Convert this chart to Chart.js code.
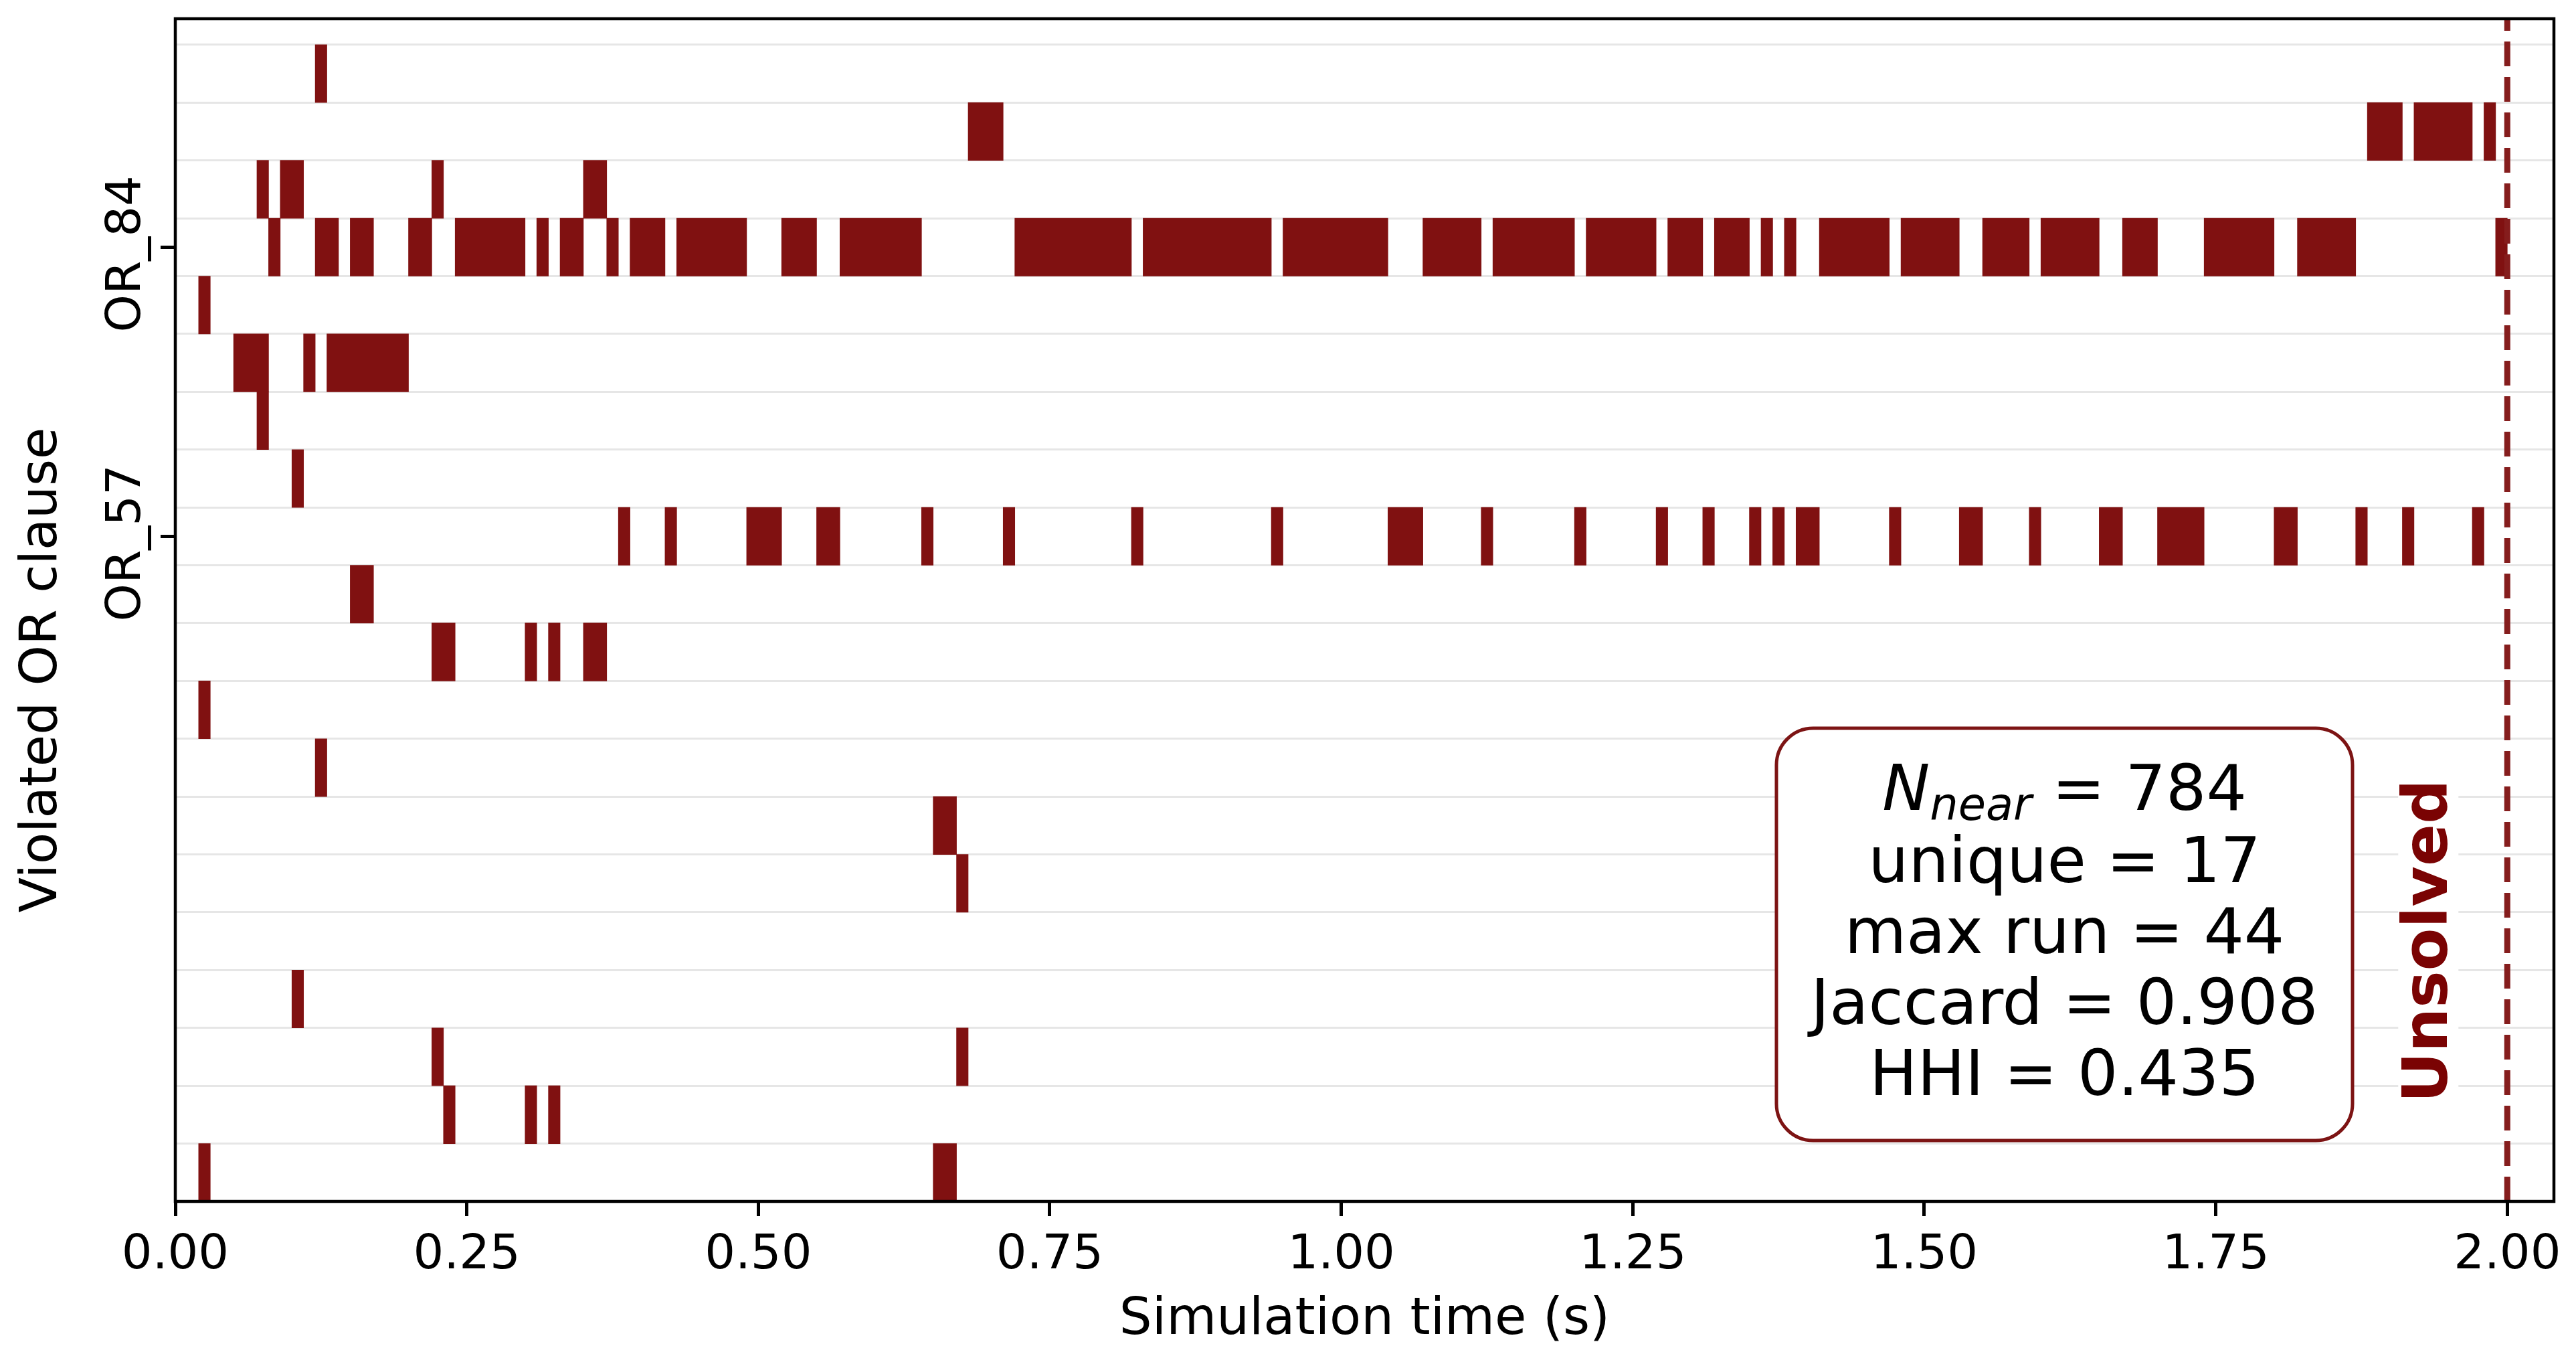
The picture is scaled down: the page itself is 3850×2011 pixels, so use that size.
<!DOCTYPE html>
<html>
<head>
<meta charset="utf-8">
<title>Violated OR clauses over simulation time</title>
<script src="https://cdn.jsdelivr.net/npm/chart.js@4.4.1/dist/chart.umd.min.js"></script>
<style>
  html, body { margin: 0; padding: 0; background: #fff; }
  #wrap { width: 3850px; height: 2011px; }
</style>
</head>
<body>
<div id="wrap"><canvas id="raster" width="3850" height="2011"></canvas></div>
<script>
/* ── data ─────────────────────────────────────────── */

// time axis (s)
const timeTicks = [0, 0.25, 0.5, 0.75, 1.0, 1.25, 1.5, 1.75, 2.0];
const timeMax = 2.04;
const timeLimit = 2.0;

// only two clause rows carry a name on the axis
const labelRows = [3, 8];
const labelNames = ['OR_84', 'OR_57'];

// violation runs per clause row, top to bottom: [start, end] in s
const row00 = [[0.12, 0.13]];
const row01 = [[0.68, 0.71], [1.88, 1.91], [1.92, 1.97], [1.98, 1.99]];
const row02 = [[0.07, 0.08], [0.09, 0.11], [0.22, 0.23], [0.35, 0.37]];
const row03 = [[0.08, 0.09], [0.12, 0.14], [0.15, 0.17], [0.20, 0.22], [0.24, 0.30], [0.31, 0.32],
               [0.33, 0.35], [0.37, 0.38], [0.39, 0.42], [0.43, 0.49], [0.52, 0.55], [0.57, 0.64],
               [0.72, 0.82], [0.83, 0.94], [0.95, 1.04], [1.07, 1.12], [1.13, 1.20], [1.21, 1.27],
               [1.28, 1.31], [1.32, 1.35], [1.36, 1.37], [1.38, 1.39], [1.41, 1.47], [1.48, 1.53],
               [1.55, 1.59], [1.60, 1.65], [1.67, 1.70], [1.74, 1.80], [1.82, 1.87], [1.99, 2.00]];
const row04 = [[0.02, 0.03]];
const row05 = [[0.05, 0.08], [0.11, 0.12], [0.13, 0.20]];
const row06 = [[0.07, 0.08]];
const row07 = [[0.10, 0.11]];
const row08 = [[0.38, 0.39], [0.42, 0.43], [0.49, 0.52], [0.55, 0.57], [0.64, 0.65], [0.71, 0.72],
               [0.82, 0.83], [0.94, 0.95], [1.04, 1.07], [1.12, 1.13], [1.20, 1.21], [1.27, 1.28],
               [1.31, 1.32], [1.35, 1.36], [1.37, 1.38], [1.39, 1.41], [1.47, 1.48], [1.53, 1.55],
               [1.59, 1.60], [1.65, 1.67], [1.70, 1.74], [1.80, 1.82], [1.87, 1.88], [1.91, 1.92],
               [1.97, 1.98]];
const row09 = [[0.15, 0.17]];
const row10 = [[0.22, 0.24], [0.30, 0.31], [0.32, 0.33], [0.35, 0.37]];
const row11 = [[0.02, 0.03]];
const row12 = [[0.12, 0.13]];
const row13 = [[0.65, 0.67]];
const row14 = [[0.67, 0.68]];
const row15 = [];
const row16 = [[0.10, 0.11]];
const row17 = [[0.22, 0.23], [0.67, 0.68]];
const row18 = [[0.23, 0.24], [0.30, 0.31], [0.32, 0.33]];
const row19 = [[0.02, 0.03], [0.65, 0.67]];

const clauseRows = [row00, row01, row02, row03, row04, row05, row06, row07, row08, row09,
                    row10, row11, row12, row13, row14, row15, row16, row17, row18, row19];

// summary box
const nNear = 784;
const statLines = ['unique = 17', 'max run = 44', 'Jaccard = 0.908', 'HHI = 0.435'];

/* ── style ────────────────────────────────────────── */

const FONT = '"DejaVu Sans", "Liberation Sans", sans-serif';
const BAR = '#801111';
const LIMIT = '#851d1d';
const DARK_RED = '#7a0303';
const GRID = '#e6e6e6';

Chart.defaults.font.family = FONT;

const isLabelRow = v => labelRows.includes(v);

const points = clauseRows.flatMap((runs, r) => runs.map(([t0, t1]) => ({ x: [t0, t1], y: r })));

/* ── overlay: limit line, notes, spines, titles ───── */

const overlay = {
  id: 'overlay',
  afterDatasetsDraw(chart) {
    const { ctx, chartArea: a, scales: { x } } = chart;
    const xl = x.getPixelForValue(timeLimit);

    // dashed "time out" line, pattern starts at the bottom
    ctx.save();
    ctx.strokeStyle = LIMIT;
    ctx.lineWidth = 9;
    ctx.setLineDash([37, 16]);
    ctx.beginPath();
    ctx.moveTo(xl, a.bottom);
    ctx.lineTo(xl, a.top);
    ctx.stroke();
    ctx.restore();

    // "Unsolved" tag with white backing
    ctx.save();
    ctx.fillStyle = '#fff';
    ctx.fillRect(xl - 163, 1160, 90, 492);
    ctx.translate(xl - 90, 1406);
    ctx.rotate(-Math.PI / 2);
    ctx.fillStyle = DARK_RED;
    ctx.font = `bold 93px ${FONT}`;
    ctx.textAlign = 'center';
    ctx.textBaseline = 'alphabetic';
    ctx.fillText('Unsolved', 0, 0);
    ctx.restore();

    // summary box
    const bx = 2655, by = 1088, bw = 861, bh = 616;
    ctx.save();
    ctx.beginPath();
    ctx.roundRect(bx, by, bw, bh, 55);
    ctx.fillStyle = '#fff';
    ctx.fill();
    ctx.lineWidth = 5;
    ctx.strokeStyle = '#7d1414';
    ctx.stroke();

    const cx = bx + bw / 2;
    ctx.fillStyle = '#000';
    ctx.textBaseline = 'alphabetic';

    // first line: N_near = 784 (math style)
    const fN = `italic 95px ${FONT}`;
    const fSub = `italic 67px ${FONT}`;
    const fMain = `95px ${FONT}`;
    const rest = ` = ${nNear}`;
    ctx.font = fN; const wN = ctx.measureText('N').width;
    ctx.font = fSub; const wS = ctx.measureText('near').width;
    ctx.font = fMain; const wR = ctx.measureText(rest).width;
    let px = cx - (wN + wS + wR) / 2;
    const base1 = 1210;
    ctx.textAlign = 'left';
    ctx.font = fN; ctx.fillText('N', px, base1); px += wN;
    ctx.font = fSub; ctx.fillText('near', px, base1 + 15); px += wS;
    ctx.font = fMain; ctx.fillText(rest, px, base1);

    ctx.textAlign = 'center';
    statLines.forEach((line, i) => ctx.fillText(line, cx, 1318 + i * 106));
    ctx.restore();
  },
  afterDraw(chart) {
    const { ctx, chartArea: a, scales: { y } } = chart;
    ctx.save();

    // frame
    ctx.strokeStyle = '#000';
    ctx.lineWidth = 4.5;
    ctx.strokeRect(a.left, a.top, a.right - a.left, a.bottom - a.top);

    ctx.fillStyle = '#000';
    ctx.textAlign = 'center';
    ctx.textBaseline = 'alphabetic';

    // rotated clause names
    ctx.font = `72px ${FONT}`;
    labelRows.forEach((r, i) => {
      ctx.save();
      ctx.translate(a.left - 53, y.getPixelForValue(r) + 10);
      ctx.rotate(-Math.PI / 2);
      ctx.fillText(labelNames[i], 0, 0);
      ctx.restore();
    });

    // axis titles
    ctx.font = `77px ${FONT}`;
    ctx.fillText('Simulation time (s)', (a.left + a.right) / 2, 1993);
    ctx.save();
    ctx.translate(84, 1001);
    ctx.rotate(-Math.PI / 2);
    ctx.fillText('Violated OR clause', 0, 0);
    ctx.restore();

    ctx.restore();
  }
};

/* ── chart ────────────────────────────────────────── */

new Chart(document.getElementById('raster'), {
  type: 'bar',
  data: {
    datasets: [{
      data: points,
      backgroundColor: BAR,
      borderWidth: 0,
      barPercentage: 1,
      categoryPercentage: 1
    }]
  },
  options: {
    indexAxis: 'y',
    responsive: false,
    animation: false,
    devicePixelRatio: 1,
    layout: { padding: { top: 28, right: 33, left: 0, bottom: 0 } },
    plugins: { legend: { display: false }, tooltip: { enabled: false } },
    scales: {
      x: {
        type: 'linear',
        position: 'bottom',
        min: 0,
        max: timeMax,
        afterBuildTicks: s => { s.ticks = timeTicks.map(v => ({ value: v })); },
        afterFit: s => { s.height = 216; },
        ticks: {
          callback: v => Number(v).toFixed(2),
          font: { size: 72 },
          color: '#000',
          padding: 16,
          maxRotation: 0,
          autoSkip: false
        },
        grid: { drawOnChartArea: false, drawTicks: true, tickLength: 22, tickWidth: 5, tickColor: '#000' },
        border: { display: false }
      },
      y: {
        type: 'linear',
        position: 'left',
        reverse: true,
        offset: false,
        min: -0.95,
        max: clauseRows.length - 0.5,
        afterBuildTicks: s => {
          const lines = clauseRows.slice(0, -1).map((_, i) => i + 0.5);
          s.ticks = [-0.5, ...lines, ...labelRows].map(v => ({ value: v }));
        },
        afterFit: s => { s.width = 262; },
        ticks: { display: false },
        grid: {
          offset: false,
          drawOnChartArea: true,
          drawTicks: true,
          tickLength: 22,
          color: c => (isLabelRow(c.tick.value) ? 'rgba(0,0,0,0)' : GRID),
          lineWidth: 3,
          tickColor: c => (isLabelRow(c.tick.value) ? '#000' : 'rgba(0,0,0,0)'),
          tickWidth: 5
        },
        border: { display: false }
      }
    }
  },
  plugins: [overlay]
});
</script>
</body>
</html>
